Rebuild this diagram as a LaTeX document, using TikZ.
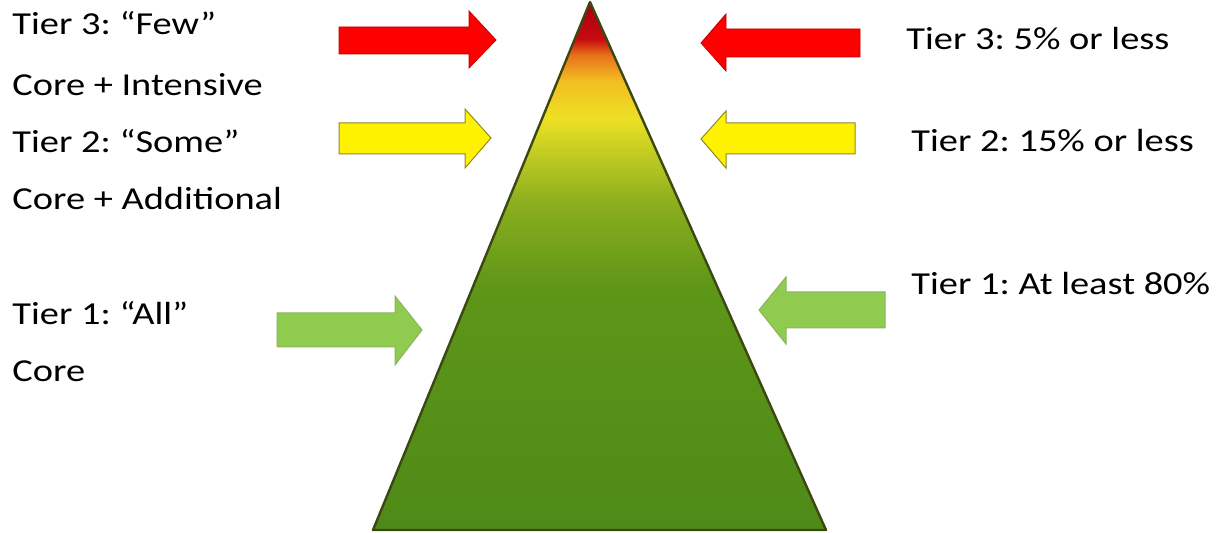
\documentclass[tikz,border=0pt]{standalone}
\usepackage{fontspec}
\setmainfont[FakeStretch=1.2]{Carlito}
\usetikzlibrary{positioning}

\definecolor{gbot}{HTML}{4E8A18}
\definecolor{gmid}{HTML}{5E9618}
\definecolor{gyel}{HTML}{8CAE1E}
\definecolor{ygrn}{HTML}{C6CE22}
\definecolor{yel}{HTML}{EEE024}
\definecolor{yelor}{HTML}{F2BE22}
\definecolor{orng}{HTML}{E8701A}
\definecolor{rd}{HTML}{C80A10}
\definecolor{drd}{HTML}{A8000E}
\definecolor{edge}{HTML}{3C4812}
\definecolor{lgreen}{HTML}{8FCB4F}

\pgfdeclareverticalshading{pyramid}{100bp}{color(0bp)=(gbot); color(25bp)=(gbot);
  color(48bp)=(gmid); color(56bp)=(gyel); color(61bp)=(ygrn); color(64bp)=(yel);
  color(67.5bp)=(yelor); color(70bp)=(orng); color(71.5bp)=(rd); color(75bp)=(drd);
  color(100bp)=(drd)}

\tikzset{
  label/.style={anchor=base west,inner sep=0pt,font=\fontsize{16}{19}\selectfont},
  redarrow/.style={fill=red,draw=red!75!black,line width=0.4pt},
  yelarrow/.style={fill=yellow,draw=olive!70!gray,line width=0.5pt},
  grnarrow/.style={fill=lgreen,draw=lgreen!70!gray,line width=0.5pt}
}
\frenchspacing

\begin{document}
\begin{tikzpicture}[x=0.5pt,y=-0.5pt]
\useasboundingbox (0,0) rectangle (1216,533);

% pyramid
\shade[shading=pyramid,draw=edge,line width=1.2pt,line join=round]
  (590,2) -- (826,530) -- (373,530) -- cycle;

% arrows, left side
\draw[redarrow] (339,27) -- (469,27) -- (469,11) -- (496,40) -- (469,68) -- (469,54) -- (339,54) -- cycle;
\draw[yelarrow] (339,123) -- (465,123) -- (465,109) -- (491,138) -- (465,168) -- (465,154) -- (339,154) -- cycle;
\draw[grnarrow] (277,313) -- (395,313) -- (395,296) -- (422,330) -- (395,365) -- (395,347) -- (277,347) -- cycle;

% arrows, right side
\draw[redarrow] (860,29) -- (726,29) -- (726,14) -- (701,43) -- (726,71) -- (726,57) -- (860,57) -- cycle;
\draw[yelarrow] (855,123) -- (726,123) -- (726,111) -- (701,139) -- (726,168) -- (726,154) -- (855,154) -- cycle;
\draw[grnarrow] (885,292) -- (786,292) -- (786,277) -- (759,310) -- (786,344) -- (786,328) -- (885,328) -- cycle;

% left labels
\node[label] (few) at (12,35) {Tier 3: “Few”};
\node[label] (intensive) at (12,96) {Core + Intensive};
\node[label] (some) at (12,153) {Tier 2: “Some”};
\node[label] (additional) at (12,210) {Core + Additional};
\node[label] (all) at (12,325) {Tier 1: “All”};
\node[label] (core) at (12,382) {Core};

% right labels
\node[label] (five) at (906,50) {Tier 3: 5\% or less};
\node[label] (fifteen) at (911,152) {Tier 2: 15\% or less};
\node[label] (eighty) at (911,295) {Tier 1: At least 80\%};
\end{tikzpicture}
\end{document}
